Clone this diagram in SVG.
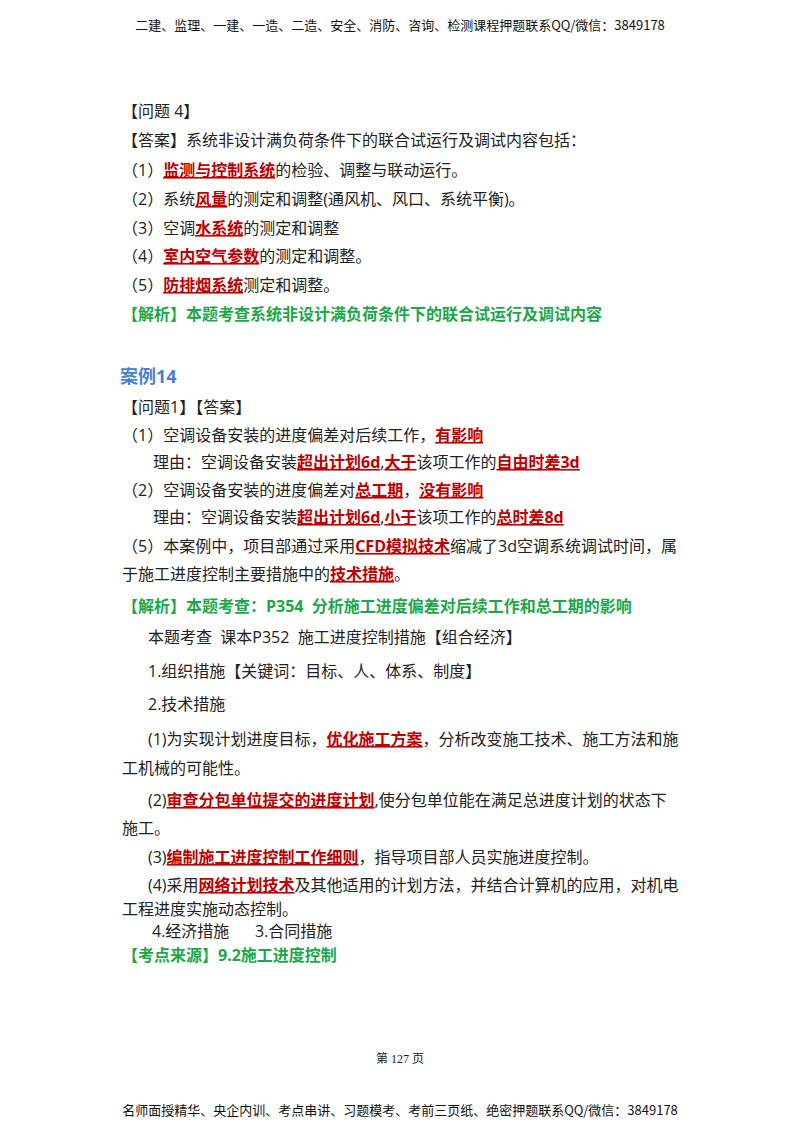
<svg xmlns="http://www.w3.org/2000/svg" width="800" height="1132" viewBox="0 0 800 1132">
<style>
text{font-family:"Open Sans","Noto Sans CJK SC",sans-serif;font-size:16px;fill:#222;white-space:pre}
.r{fill:#c00000;font-weight:bold;text-decoration:underline}
.g{fill:#1aa84a;font-weight:bold}
.b{fill:#4a7fd0;font-weight:bold;font-size:18px}
.h{font-family:"Noto Sans CJK SC",sans-serif;font-size:13px;fill:#111}
.p{font-family:"Liberation Serif","Noto Sans CJK SC",serif;font-size:12px}
</style>
<rect width="800" height="1132" fill="#fff"/>
<text class="h" x="400" y="30" text-anchor="middle">二建、监理、一建、一造、二造、安全、消防、咨询、检测课程押题联系QQ/微信：3849178</text>
<text x="122" y="117">【问题 4】</text>
<text x="122" y="146">【答案】系统非设计满负荷条件下的联合试运行及调试内容包括：</text>
<text x="122" y="176">（1）<tspan class="r">监测与控制系统</tspan>的检验、调整与联动运行。</text>
<text x="122" y="205">（2）系统<tspan class="r">风量</tspan>的测定和调整(通风机、风口、系统平衡)。</text>
<text x="122" y="234">（3）空调<tspan class="r">水系统</tspan>的测定和调整</text>
<text x="122" y="262">（4）<tspan class="r">室内空气参数</tspan>的测定和调整。</text>
<text x="122" y="291">（5）<tspan class="r">防排烟系统</tspan>测定和调整。</text>
<text class="g" x="122" y="320">【解析】本题考查系统非设计满负荷条件下的联合试运行及调试内容</text>
<text class="b" x="120" y="383">案例14</text>
<text x="122" y="413">【问题1】【答案】</text>
<text x="122" y="441">（1）空调设备安装的进度偏差对后续工作，<tspan class="r">有影响</tspan></text>
<text x="153" y="468">理由：空调设备安装<tspan class="r">超出计划6d</tspan>,<tspan class="r">大于</tspan>该项工作的<tspan class="r">自由时差3d</tspan></text>
<text x="122" y="496">（2）空调设备安装的进度偏差对<tspan class="r">总工期</tspan>，<tspan class="r">没有影响</tspan></text>
<text x="153" y="523">理由：空调设备安装<tspan class="r">超出计划6d</tspan>,<tspan class="r">小于</tspan>该项工作的<tspan class="r">总时差8d</tspan></text>
<text x="122" y="552">（5）本案例中，项目部通过采用<tspan class="r">CFD模拟技术</tspan>缩减了3d空调系统调试时间，属</text>
<text x="122" y="580">于施工进度控制主要措施中的<tspan class="r">技术措施</tspan>。</text>
<text class="g" x="122" y="612">【解析】本题考查：P354  分析施工进度偏差对后续工作和总工期的影响</text>
<text x="148" y="643">本题考查  课本P352  施工进度控制措施【组合经济】</text>
<text x="148" y="677">1.组织措施【关键词：目标、人、体系、制度】</text>
<text x="148" y="710">2.技术措施</text>
<text x="148" y="745">(1)为实现计划进度目标，<tspan class="r">优化施工方案</tspan>，分析改变施工技术、施工方法和施</text>
<text x="122" y="774">工机械的可能性。</text>
<text x="148" y="806">(2)<tspan class="r">审查分包单位提交的进度计划</tspan>,使分包单位能在满足总进度计划的状态下</text>
<text x="122" y="834">施工。</text>
<text x="148" y="863">(3)<tspan class="r">编制施工进度控制工作细则</tspan>，指导项目部人员实施进度控制。</text>
<text x="148" y="891">(4)采用<tspan class="r">网络计划技术</tspan>及其他适用的计划方法，并结合计算机的应用，对机电</text>
<text x="122" y="915">工程进度实施动态控制。</text>
<text x="152" y="937">4.经济措施</text>
<text x="255" y="937">3.合同措施</text>
<text class="g" x="122" y="961">【考点来源】9.2施工进度控制</text>
<text class="p" x="400" y="1063" text-anchor="middle">第 127 页</text>
<text class="h" x="400" y="1115" text-anchor="middle">名师面授精华、央企内训、考点串讲、习题模考、考前三页纸、绝密押题联系QQ/微信：3849178</text>
</svg>
